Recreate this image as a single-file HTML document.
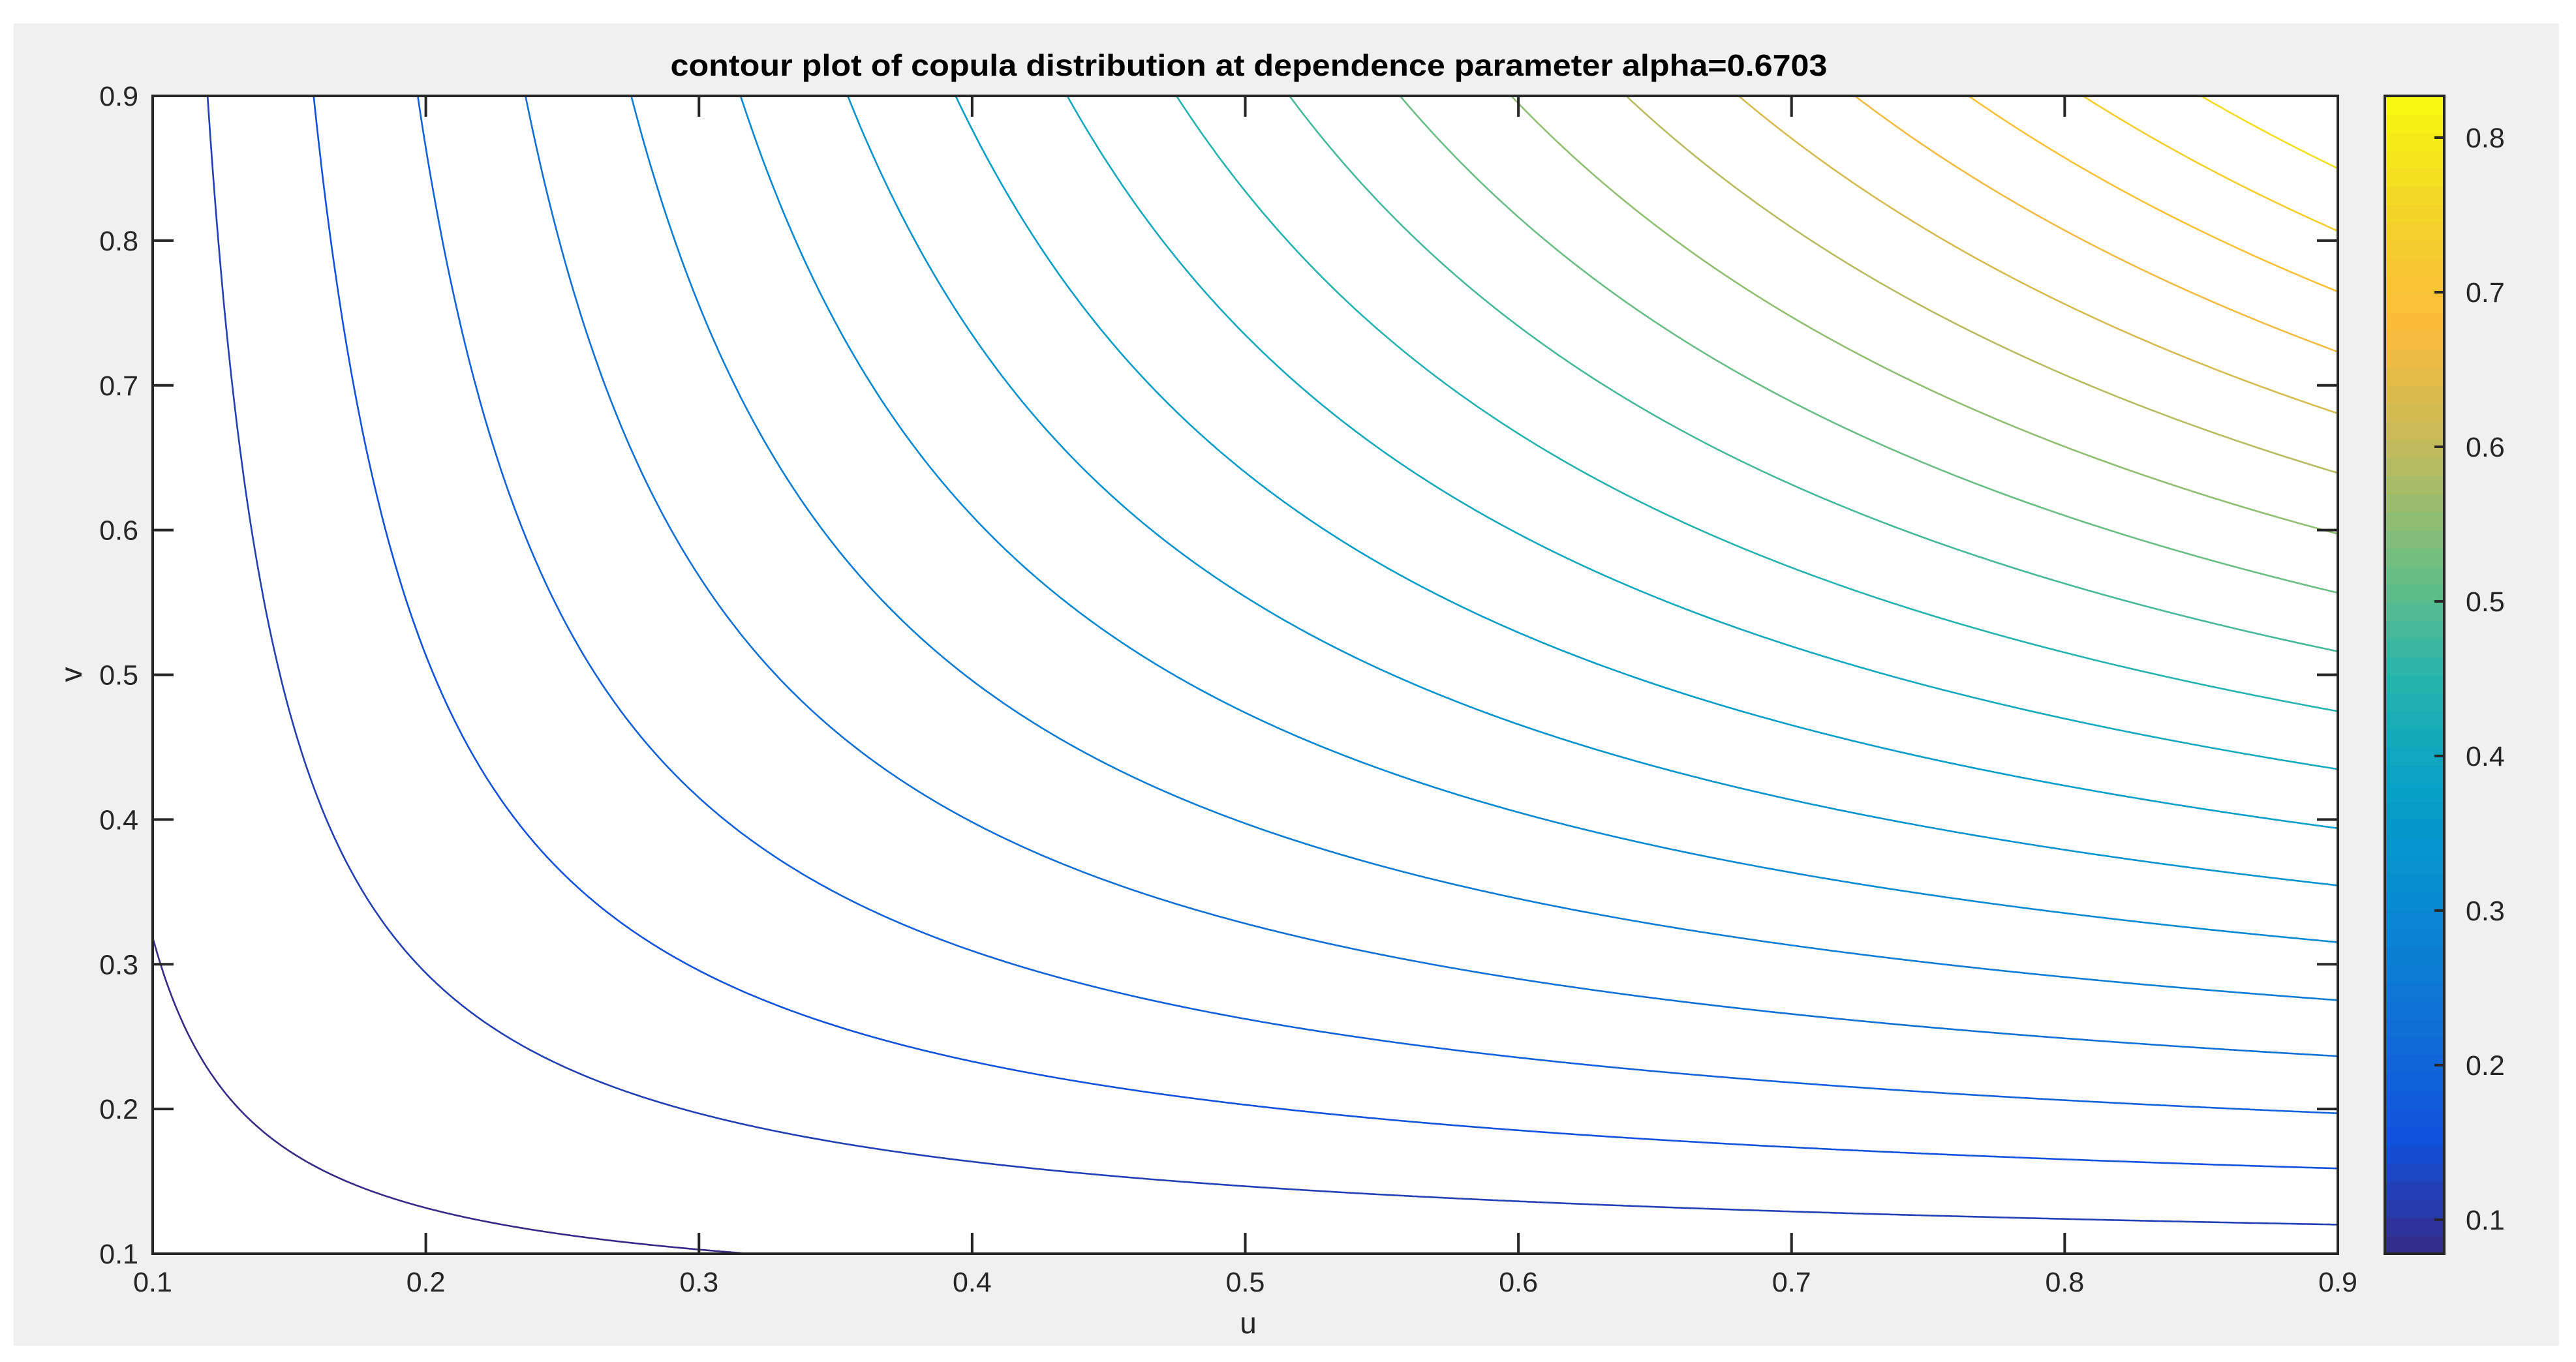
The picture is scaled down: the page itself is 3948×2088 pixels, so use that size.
<!DOCTYPE html>
<html><head><meta charset="utf-8">
<style>
html,body{margin:0;padding:0;background:#fff;}
svg{display:block;}
text{font-family:"Liberation Sans",Arial,sans-serif;fill:#262626;}
</style></head>
<body>
<svg id="chart" width="3948" height="2088" viewBox="0 0 3948 2088" xmlns="http://www.w3.org/2000/svg">
<rect x="21" y="36" width="3901" height="2027" fill="#f0f0f0"/>
<defs><clipPath id="plotclip"><rect x="234" y="147" width="3349" height="1775"/></clipPath></defs>
<rect x="234" y="147" width="3349" height="1775" fill="#fff"/>
<g id="contours" clip-path="url(#plotclip)"></g>
<g id="colorbar"></g>
<g id="axes"></g>
<text x="1914" y="116" text-anchor="middle" font-size="46" font-weight="bold" textLength="1773" lengthAdjust="spacingAndGlyphs" style="fill:#000">contour plot of copula distribution at dependence parameter alpha=0.6703</text>
<text x="1913" y="2044" text-anchor="middle" font-size="46">u</text>
<text x="0" y="0" text-anchor="middle" font-size="46" transform="translate(125,1034) rotate(-90)">v</text>
</svg>
<script>
const alpha = 0.6703;
const levels = [0.072,0.117,0.154,0.190,0.227,0.263,0.300,0.336,0.372,0.409,0.445,0.482,0.518,0.554,0.591,0.627,0.664,0.700,0.736,0.773];
const xTicks = [0.1,0.2,0.3,0.4,0.5,0.6,0.7,0.8,0.9];
const yTicks = [0.1,0.2,0.3,0.4,0.5,0.6,0.7,0.8,0.9];
const cbTicks = [0.1,0.2,0.3,0.4,0.5,0.6,0.7,0.8];
const cbRange = [0.078,0.827];

const NS="http://www.w3.org/2000/svg";
const PL=234,PR=3583,PT=147,PB=1922;
const CBL=3655,CBR=3746;
const xS=u=>PL+(u-0.1)/0.8*(PR-PL);
const yS=v=>PB-(v-0.1)/0.8*(PB-PT);
const cS=c=>PB-(c-cbRange[0])/(cbRange[1]-cbRange[0])*(PB-PT);
const keys=[[0,[53,42,135]],[0.1,[17,82,221]],[0.2,[16,112,214]],[0.3,[7,137,210]],[0.4,[6,160,200]],[0.5,[40,181,172]],[0.6,[115,191,127]],[0.7,[196,187,90]],[0.8,[252,187,60]],[0.9,[242,211,40]],[1,[249,251,14]]];
function parula(t){t=Math.max(0,Math.min(1,t));for(let i=0;i<keys.length-1;i++){const a=keys[i],b=keys[i+1];if(t<=b[0]){const f=(t-a[0])/(b[0]-a[0]);return 'rgb('+a[1].map((c,j)=>Math.round(c+(b[1][j]-c)*f)).join(',')+')';}}return 'rgb(249,251,14)';}
function mk(tag,attrs,parent){const e=document.createElementNS(NS,tag);for(const k in attrs)e.setAttribute(k,attrs[k]);parent.appendChild(e);return e;}

const cg=document.getElementById('contours');
levels.forEach((c,i)=>{
  const ca=Math.pow(c,-alpha);
  let d='';let pen=false;
  for(let k=0;k<=1200;k++){
    const u=0.1+0.8*k/1200;
    const s=ca-Math.pow(u,-alpha)+1;
    if(s<=0){pen=false;continue;}
    let v=Math.pow(s,-1/alpha);
    if(v>1.2){pen=false;continue;}
    d+=(pen?'L':'M')+xS(u).toFixed(1)+' '+yS(v).toFixed(1);pen=true;
  }
  const p=mk('path',{d:d,fill:'none',stroke:parula((c-cbRange[0])/(cbRange[1]-cbRange[0])),'stroke-width':2.6},cg);
  
  
});

const cb=document.getElementById('colorbar');
const nb=64;
for(let i=0;i<nb;i++){
  const y0=PB-(i+1)*(PB-PT)/nb;
  const r=mk('rect',{x:CBL,y:y0.toFixed(1),width:CBR-CBL,height:((PB-PT)/nb+0.8).toFixed(1),fill:parula((i+0.5)/nb)},cb);
  
  
}
mk('rect',{x:CBL,y:PT,width:CBR-CBL,height:PB-PT,fill:'none',stroke:'#262626','stroke-width':4},cb);
cbTicks.forEach(t=>{
  const y=cS(t);
  mk('line',{x1:CBR-15,x2:CBR,y1:y,y2:y,stroke:'#262626','stroke-width':4},cb);
  const tx=mk('text',{x:3779,y:y+15,'font-size':43},cb);tx.textContent=t.toFixed(1);
  
  
});

const ax=document.getElementById('axes');
mk('rect',{x:PL,y:PT,width:PR-PL,height:PB-PT,fill:'none',stroke:'#262626','stroke-width':4},ax);
xTicks.forEach(t=>{
  const x=xS(t);
  mk('line',{x1:x,x2:x,y1:PB,y2:PB-32,stroke:'#262626','stroke-width':4},ax);
  mk('line',{x1:x,x2:x,y1:PT,y2:PT+32,stroke:'#262626','stroke-width':4},ax);
  const tx=mk('text',{x:x,y:1980,'font-size':43,'text-anchor':'middle'},ax);tx.textContent=t.toFixed(1);
  
  
});
yTicks.forEach(t=>{
  const y=yS(t);
  mk('line',{x1:PL,x2:PL+32,y1:y,y2:y,stroke:'#262626','stroke-width':4},ax);
  mk('line',{x1:PR,x2:PR-32,y1:y,y2:y,stroke:'#262626','stroke-width':4},ax);
  const tx=mk('text',{x:212,y:y+15,'font-size':43,'text-anchor':'end'},ax);tx.textContent=t.toFixed(1);
  
  
});
</script>
</body></html>
